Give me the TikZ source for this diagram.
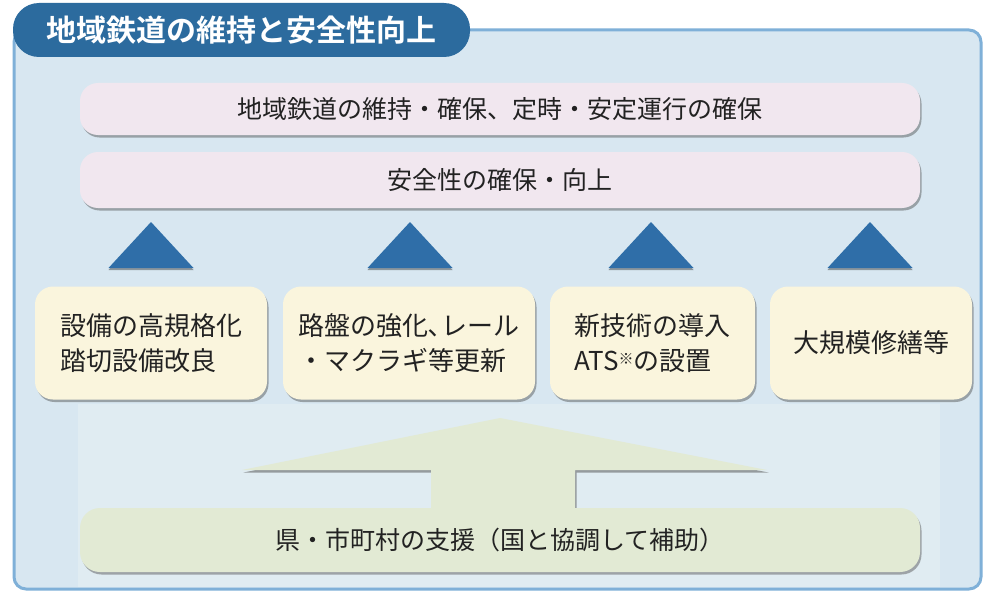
\documentclass[tikz,border=0pt]{standalone}
\usepackage{fontspec}
\setmainfont{Noto Sans CJK JP}
\newfontfamily\titlefont{Noto Sans CJK JP}[BoldFont={* Bold}]
\usetikzlibrary{shadows}
\definecolor{panelfill}{HTML}{D8E7F1}
\definecolor{panelline}{HTML}{7FB0D8}
\definecolor{innerfill}{HTML}{E0ECF2}
\definecolor{tabfill}{HTML}{2C6B9E}
\definecolor{pinkfill}{HTML}{F1E7EF}
\definecolor{creamfill}{HTML}{FAF5DD}
\definecolor{trifill}{HTML}{2F6EA8}
\definecolor{greenfill}{HTML}{E2EAD4}
\definecolor{txt}{HTML}{222222}
\tikzset{
  shade/.style={drop shadow={shadow xshift=1.5pt, shadow yshift=-2.5pt, opacity=0.45, fill=black!70}},
  pinkbox/.style={draw=none, fill=pinkfill, rounded corners=18pt, shade, minimum width=840pt, text=txt, font=\fontsize{25}{30}\selectfont},
  creambox/.style={draw=none, fill=creamfill, rounded corners=18pt, shade, minimum height=113pt, text=txt, align=left, font=\fontsize{26}{35}\selectfont},
  tri/.style={fill=trifill, drop shadow={shadow xshift=0pt, shadow yshift=-2pt, opacity=0.35, fill=black}},
}
\begin{document}
\begin{tikzpicture}[x=1pt,y=-1pt]
\useasboundingbox (0,0) rectangle (986,594);
\fill[white] (0,0) rectangle (986,594);
% panel
\draw[panelline, line width=3pt, fill=panelfill, rounded corners=12pt] (14,30) rectangle (981,589);
\fill[innerfill] (78,404) rectangle (940,587);
% title tab
\node[fill=tabfill, rounded corners=26pt, minimum width=457pt, minimum height=54pt, text=white,
      font=\titlefont\bfseries\fontsize{30}{34}\selectfont, inner sep=0pt] (title) at (241.5,30) {地域鉄道の維持と安全性向上};
% pink boxes
\node[pinkbox, minimum height=52pt] (goal) at (500,109) {地域鉄道の維持・確保、定時・安定運行の確保};
\node[pinkbox, minimum height=56pt] (safety) at (500,180) {安全性の確保・向上};
% measure boxes
\node[creambox, minimum width=232pt] (m1) at (151,343) {設備の高規格化\\踏切設備改良};
\node[creambox, minimum width=252pt] (m2) at (409,343) {路盤の強化､レール\\・マクラギ等更新};
\node[creambox, minimum width=205pt] (m3) at (652.5,343) {新技術の導入\\ATS\raisebox{6pt}{\fontsize{15}{15}\selectfont ※}の設置};
\node[creambox, minimum width=202pt] (m4) at (871,343) {大規模修繕等};
% triangles
\foreach \c in {151,410,651,870}{
  \fill[tri] (\c-42.5,268) -- (\c,222) -- (\c+42.5,268) -- cycle;
}
% big arrow
\fill[greenfill, drop shadow={shadow xshift=1.5pt, shadow yshift=-2.5pt, opacity=0.5, fill=black!70}]
  (500,418) -- (767,470) -- (575,470) -- (575,512) -- (431,512) -- (431,470) -- (242,470) -- cycle;
\node[draw=none, fill=greenfill, rounded corners=20pt, minimum width=840pt, minimum height=64pt, shade,
      text=txt, font=\fontsize{25}{28}\selectfont] (support) at (500,540) {県・市町村の支援（国と協調して補助）};
\end{tikzpicture}
\end{document}
